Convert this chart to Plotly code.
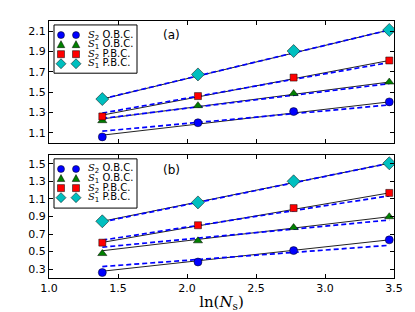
import numpy as np
import plotly.graph_objects as go

# ---------------- data ----------------
Ns = [4, 8, 16, 32]
series_names = ["S2 OBC", "S1 OBC", "S2 PBC", "S1 PBC"]
legend_labels = [
    '<span style="font-family:DejaVu Serif"><i>S</i></span><sub>2</sub> O.B.C.',
    '<span style="font-family:DejaVu Serif"><i>S</i></span><sub>1</sub> O.B.C.',
    '<span style="font-family:DejaVu Serif"><i>S</i></span><sub>2</sub> P.B.C.',
    '<span style="font-family:DejaVu Serif"><i>S</i></span><sub>1</sub> P.B.C.',
]
panel_labels = ["(a)", "(b)"]
x_ticks = [1.0, 1.5, 2.0, 2.5, 3.0, 3.5]

# panel (a)
a_S2_OBC = [1.061, 1.200, 1.310, 1.405]
a_S1_OBC = [1.220, 1.368, 1.487, 1.600]
a_S2_PBC = [1.262, 1.462, 1.644, 1.812]
a_S1_PBC = [1.433, 1.675, 1.905, 2.112]
# fit lines (values at first and last N_s)
a_fit_solid = [[1.078, 1.405], [1.238, 1.600], [1.275, 1.812], [1.433, 2.112]]
a_fit_dash = [[1.117, 1.375], [1.242, 1.585], [1.295, 1.792], [1.435, 2.112]]

# panel (b)
b_S2_OBC = [0.262, 0.382, 0.512, 0.634]
b_S1_OBC = [0.478, 0.623, 0.774, 0.897]
b_S2_PBC = [0.602, 0.800, 0.995, 1.168]
b_S1_PBC = [0.845, 1.060, 1.300, 1.505]
b_fit_solid = [[0.277, 0.634], [0.510, 0.897], [0.605, 1.168], [0.845, 1.505]]
b_fit_dash = [[0.330, 0.572], [0.550, 0.860], [0.630, 1.135], [0.838, 1.505]]

x = np.log(np.array(Ns, dtype=float))
x_ends = [x[0], x[-1]]

styles = [
    dict(symbol="circle", color="#0000ff", size=8),
    dict(symbol="triangle-up", color="#008000", size=8),
    dict(symbol="square", color="#ff0000", size=7),
    dict(symbol="diamond", color="#00bfbf", size=10),
]

# figure geometry (pixels)
W, H = 415, 312
ML, MR, MT, MB = 41, 29, 13, 38
PW, PH = W - ML - MR, H - MT - MB


def px_x(p):
    return (p - ML) / PW


def px_y(p):
    return (H - MB - p) / PH


fig = go.Figure()


def add_panel(data, fit_solid, fit_dash, xa, ya):
    for s, d in zip(fit_solid, fit_dash):
        fig.add_trace(go.Scatter(x=x_ends, y=s, mode="lines", xaxis=xa, yaxis=ya,
                                 line=dict(color="#222222", width=1), showlegend=False,
                                 hoverinfo="skip"))
        fig.add_trace(go.Scatter(x=x_ends, y=d, mode="lines", xaxis=xa, yaxis=ya,
                                 line=dict(color="#0000ff", width=1.7, dash="5px,3px"),
                                 showlegend=False, hoverinfo="skip"))
    for vals, st, name in zip(data, styles, series_names):
        fig.add_trace(go.Scatter(
            x=x, y=vals, mode="markers", xaxis=xa, yaxis=ya, name=name, showlegend=False,
            marker=dict(symbol=st["symbol"], color=st["color"], size=st["size"],
                        line=dict(color="#000000", width=0.5))))


add_panel([a_S2_OBC, a_S1_OBC, a_S2_PBC, a_S1_PBC], a_fit_solid, a_fit_dash, "x", "y")
add_panel([b_S2_OBC, b_S1_OBC, b_S2_PBC, b_S1_PBC], b_fit_solid, b_fit_dash, "x2", "y2")

# ---------------- hand-drawn legends (matplotlib style, two symbols per entry) -------------
shapes = []
annotations = []


def symbol_shape(kind, color, xp, yp):
    base = dict(xref="paper", yref="paper", xsizemode="pixel", ysizemode="pixel",
                xanchor=px_x(xp), yanchor=px_y(yp), fillcolor=color,
                line=dict(color="#000000", width=0.5), layer="above")
    if kind == "circle":
        base.update(type="circle", x0=-3.5, x1=3.5, y0=-3.5, y1=3.5)
    elif kind == "square":
        base.update(type="rect", x0=-3.5, x1=3.5, y0=-3.5, y1=3.5)
    elif kind == "triangle-up":
        base.update(type="path", path="M -3.8,-3 L 3.8,-3 L 0,4 Z")
    else:
        base.update(type="path", path="M 0,5 L 5,0 L 0,-5 L -5,0 Z")
    return base


def add_legend(box_top, box_bottom, rows):
    shapes.append(dict(type="rect", xref="paper", yref="paper",
                       x0=px_x(46), x1=px_x(129), y0=px_y(box_bottom), y1=px_y(box_top),
                       fillcolor="white", line=dict(color="#000000", width=1), layer="above"))
    for st, lab, ry in zip(styles, legend_labels, rows):
        for cx in (53, 68):
            shapes.append(symbol_shape(st["symbol"], st["color"], cx, ry))
        annotations.append(dict(text=lab, xref="paper", yref="paper", x=px_x(78), y=px_y(ry),
                                xanchor="left", yanchor="middle", showarrow=False,
                                font=dict(family="DejaVu Sans", size=10, color="#000000")))


add_legend(17, 66, [27.3, 37.0, 46.7, 56.4])
add_legend(153, 203, [163.3, 173.0, 182.7, 192.4])

annotations.append(dict(text=panel_labels[0], x=px_x(163), y=px_y(27), xref="paper", yref="paper",
                        xanchor="center", yanchor="middle", showarrow=False,
                        font=dict(family="DejaVu Sans", size=12, color="#000000")))
annotations.append(dict(text=panel_labels[1], x=px_x(163), y=px_y(164), xref="paper", yref="paper",
                        xanchor="center", yanchor="middle", showarrow=False,
                        font=dict(family="DejaVu Sans", size=12, color="#000000")))

axis_common = dict(showline=True, linecolor="#000000", linewidth=1, mirror="ticks",
                   ticks="inside", ticklen=4, tickcolor="#000000", showgrid=False,
                   zeroline=False, tickfont=dict(family="DejaVu Sans", size=11, color="#000000"))

top_dom = [px_y(137), 1.0]
bot_dom = [0.0, px_y(149)]

fig.update_layout(
    width=W, height=H,
    margin=dict(l=ML, r=MR, t=MT, b=MB),
    paper_bgcolor="white", plot_bgcolor="white",
    showlegend=False,
    xaxis=dict(domain=[0, 1], range=[1.0, 3.5], anchor="y", tickvals=x_ticks,
               showticklabels=False, **axis_common),
    yaxis=dict(domain=top_dom, range=[1.0, 2.2], anchor="x", tick0=1.1, dtick=0.2,
               tickformat=".1f", **axis_common),
    xaxis2=dict(domain=[0, 1], range=[1.0, 3.5], anchor="y2", tickvals=x_ticks,
                tickformat=".1f",
                title=dict(text='ln(<i>N</i><sub>s</sub>)',
                           font=dict(family="DejaVu Serif", size=15, color="#000000"), standoff=2),
                **axis_common),
    yaxis2=dict(domain=bot_dom, range=[0.2, 1.6], anchor="x2", tick0=0.3, dtick=0.2,
                tickformat=".1f", **axis_common),
    shapes=shapes,
    annotations=annotations,
)

fig.write_html("out.html")
